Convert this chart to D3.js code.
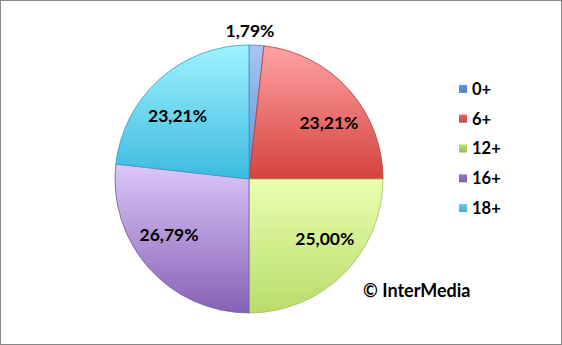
<!DOCTYPE html>
<html lang="en">
<script src="https://d3js.org/d3.v7.min.js"></script>
<style>
    body {margin: 0; background: white;}
    .lbl text {font-family: Lato, "Open Sans", sans-serif; font-weight: bold; fill: black;}
</style>
<body>
    <svg width="562" height="345"></svg>
</body>
<script>
    // data: counts behind the percentages (out of 56)
    var categories = ["0+", "6+", "12+", "16+", "18+"];
    var values = [1, 13, 14, 15, 13];
    var labels = ["1,79%", "23,21%", "25,00%", "26,79%", "23,21%"];
    var lightColors = ["#a9c6f5", "#ffa3a3", "#eaffb0", "#dcc6fa", "#a0f2ff"];
    var darkColors = ["#5b8ed6", "#d4433f", "#b8dc6a", "#8662b4", "#3cbadf"];
    var legendColors = ["#4f81bd", "#c0504d", "#9bbb59", "#8064a2", "#4bacc6"];

    var svg = d3.select("svg");
    var width = +svg.attr("width");
    var height = +svg.attr("height");

    svg.append("rect").attr("x", 0.5).attr("y", 0.5)
        .attr("width", width - 1).attr("height", height - 1)
        .attr("fill", "white").attr("stroke", "#888");

    var cx = 249, cy = 179, r = 134;

    var pie = d3.pie().sort(null).value(function(d){return d;});
    var arcs = pie(values);
    var arc = d3.arc().innerRadius(0).outerRadius(r);

    var defs = svg.append("defs");
    arcs.forEach(function(d, i){
        var g = defs.append("linearGradient").attr("id", "grad" + i)
            .attr("x1", 0).attr("y1", 0).attr("x2", 0).attr("y2", 1);
        g.append("stop").attr("offset", "0%").attr("stop-color", lightColors[i]);
        g.append("stop").attr("offset", "100%").attr("stop-color", darkColors[i]);
        var lg = defs.append("linearGradient").attr("id", "leg" + i)
            .attr("x1", 0).attr("y1", 0).attr("x2", 0).attr("y2", 1);
        lg.append("stop").attr("offset", "0%").attr("stop-color", d3.color(legendColors[i]).brighter(0.5));
        lg.append("stop").attr("offset", "100%").attr("stop-color", legendColors[i]);
    });

    var pieG = svg.append("g").attr("transform", "translate(" + cx + "," + cy + ")");
    pieG.selectAll("path").data(arcs).enter().append("path")
        .attr("d", arc)
        .attr("fill", function(d, i){return "url(#grad" + i + ")";})
        .attr("stroke", function(d, i){return d3.color(darkColors[i]).darker(0.4);})
        .attr("stroke-width", 0.8);

    // labels: inside for big slices (spread wider than tall), outside for the small one
    var unit = d3.arc().innerRadius(1).outerRadius(1);
    var lblG = pieG.append("g").attr("class", "lbl");
    lblG.selectAll("text").data(arcs).enter().append("text")
        .attr("text-anchor", "middle")
        .attr("dy", "0.35em")
        .attr("font-size", 17.5)
        .attr("transform", function(d, i){
            if (values[i] < 3) return "translate(1," + (-r - 14) + ")";
            var c = unit.centroid(d);
            return "translate(" + (c[0] * r * 0.8) + "," + (c[1] * r * 0.63) + ")";
        })
        .text(function(d, i){return labels[i];});

    // legend
    var legY = d3.scaleBand().domain(categories).range([74, 223]);
    var leg = svg.append("g").attr("class", "lbl");
    var item = leg.selectAll("g").data(categories).enter().append("g")
        .attr("transform", function(d){return "translate(459," + (legY(d) + legY.bandwidth() / 2) + ")";});
    item.append("rect").attr("x", 0).attr("y", -4).attr("width", 8).attr("height", 8)
        .attr("fill", function(d, i){return "url(#leg" + i + ")";});
    item.append("text").attr("x", 13).attr("dy", "0.36em").attr("font-size", 16.5)
        .text(function(d){return d;});

    svg.append("g").attr("class", "lbl").append("text")
        .attr("x", 363).attr("y", 291).attr("dy", "0.36em")
        .attr("font-size", 18)
        .text("© InterMedia");
</script>
</html>
